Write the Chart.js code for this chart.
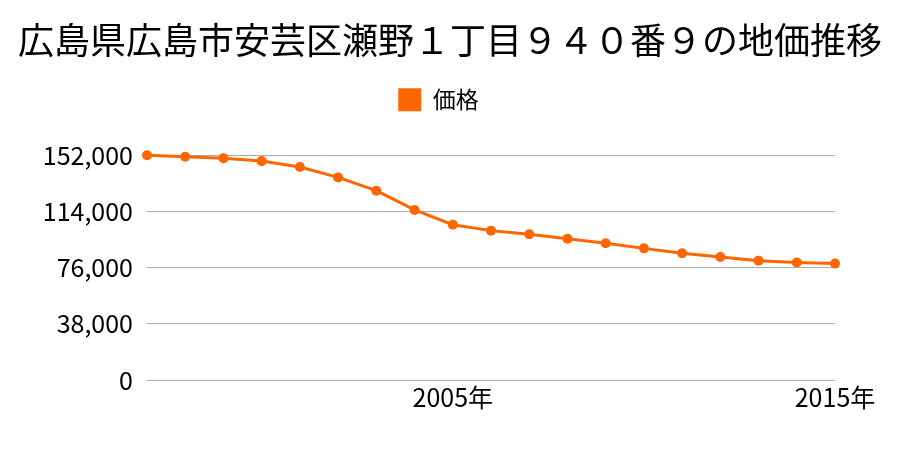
<!DOCTYPE html>
<html>
<head>
<meta charset="utf-8">
<script src="https://cdn.jsdelivr.net/npm/chart.js@4"></script>
<style>
  body { margin: 0; background: #fff; }
  #contenedor { width: 900px; height: 450px; }
</style>
</head>
<body>
<div id="contenedor"><canvas id="grafico" width="900" height="450"></canvas></div>
<script>
// Datos
const anios = ['1997', '1998', '1999', '2000', '2001', '2002', '2003', '2004', '2005', '2006',
               '2007', '2008', '2009', '2010', '2011', '2012', '2013', '2014', '2015'];
const precios = [152000, 151000, 150000, 148000, 144000, 137000, 128000, 115000, 105000, 101000,
                 98500, 95500, 92500, 89000, 85700, 83200, 80700, 79400, 78700];
const etiquetasVisibles = ['2005', '2015'];
const ticksY = [0, 38000, 76000, 114000, 152000];

const titulo = '広島県広島市安芸区瀬野１丁目９４０番９の地価推移';
const fuente = '"Noto Sans CJK JP", sans-serif';
const naranja = '#ff6600';

// Agrega espacio debajo de la leyenda
const espacioLeyenda = {
    id: 'espacioLeyenda',
    beforeInit(chart) {
        const fitOriginal = chart.legend.fit;
        chart.legend.fit = function () {
            fitOriginal.bind(chart.legend)();
            this.height += 34;
        };
    },
};

const ctx = document.getElementById('grafico').getContext('2d');

new Chart(ctx, {
    type: 'line',
    data: {
        labels: anios,
        datasets: [{
            label: '価格',
            data: precios,
            borderColor: naranja,
            backgroundColor: naranja,
            borderWidth: 3,
            pointRadius: 5,
            pointBackgroundColor: naranja,
            pointBorderWidth: 0,
            fill: false,
            tension: 0,
            clip: false,
        }],
    },
    options: {
        responsive: false,
        animation: false,
        layout: { padding: 0 },
        plugins: {
            title: {
                display: true,
                text: titulo,
                color: '#000',
                font: { family: fuente, size: 36, weight: 'normal' },
                padding: { top: 19, bottom: 1 },
            },
            legend: {
                labels: {
                    color: '#000',
                    font: { family: fuente, size: 23 },
                    boxWidth: 23,
                    boxHeight: 23,
                    padding: 25,
                    // el espacio final corre la leyenda un poco a la izquierda, como en el original
                    generateLabels: (chart) => [{
                        text: '価格\u3000',
                        fillStyle: naranja,
                        strokeStyle: naranja,
                        lineWidth: 0,
                        datasetIndex: 0,
                    }],
                },
            },
            tooltip: { enabled: false },
        },
        scales: {
            x: {
                offset: false,
                grid: { display: false, drawTicks: false },
                border: { display: false },
                afterFit: (eje) => { eje.height = 70; },
                ticks: {
                    color: '#000',
                    font: { family: fuente, size: 25 },
                    autoSkip: false,
                    maxRotation: 0,
                    padding: 2,
                    callback: function (valor, indice) {
                        const anio = anios[indice];
                        return etiquetasVisibles.includes(anio) ? anio + '年' : '';
                    },
                },
            },
            y: {
                min: 0,
                max: 152000,
                afterBuildTicks: (eje) => {
                    eje.ticks = ticksY.map(v => ({ value: v }));
                },
                afterFit: (eje) => { eje.width = 147; },
                grid: { color: '#aaaaaa', lineWidth: 1, drawTicks: false },
                border: { display: false },
                ticks: {
                    color: '#000',
                    font: { family: fuente, size: 25 },
                    padding: 14,
                    callback: (v) => v.toLocaleString('en-US'),
                },
            },
            // eje vacío a la derecha, solo para dejar margen
            margen: {
                position: 'right',
                min: 0,
                max: 152000,
                afterFit: (eje) => { eje.width = 65; },
                grid: { display: false, drawTicks: false },
                border: { display: false },
                ticks: { display: false },
            },
        },
    },
    plugins: [espacioLeyenda],
});
</script>
</body>
</html>
